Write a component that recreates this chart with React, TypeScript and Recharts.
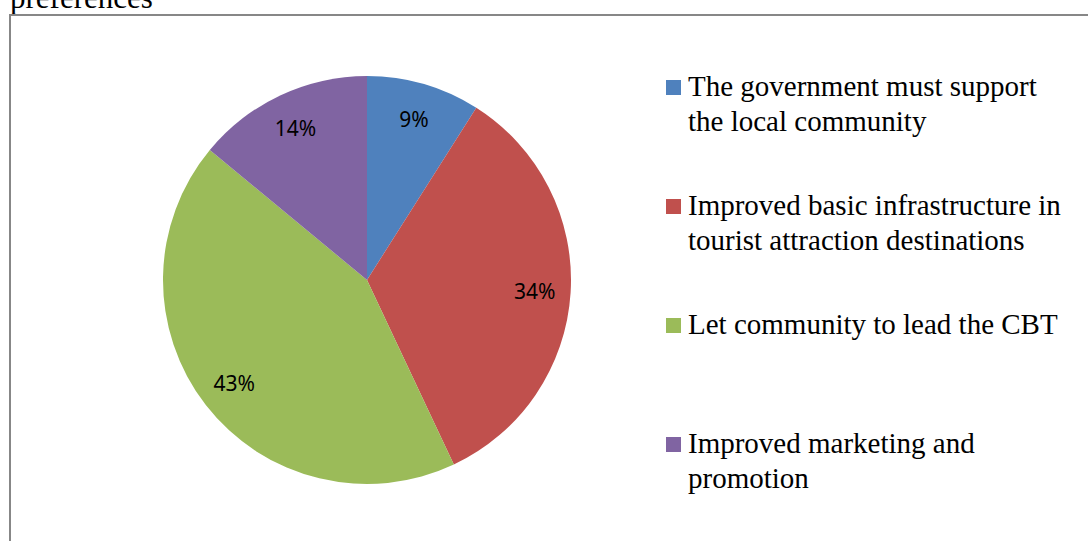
import { PieChart, Pie, Cell, Legend } from 'recharts';

const categories = [
  'The government must support the local community',
  'Improved basic infrastructure in tourist attraction destinations',
  'Let community to lead the CBT',
  'Improved marketing and promotion',
];
const shares = [9, 34, 43, 14];
const colors = ['#4F81BD', '#C0504D', '#9BBB59', '#8064A2'];

const data = categories.map((name, i) => ({ name, value: shares[i] }));

const RAD = Math.PI / 180;

function SliceLabel(props: any) {
  const { cx, cy, midAngle, index } = props;
  const r = 168;
  const x = cx + r * Math.cos(-midAngle * RAD);
  const y = cy + r * Math.sin(-midAngle * RAD);
  return (
    <text
      x={x}
      y={y}
      fill="#000"
      fontSize={21}
      fontFamily="'Noto Sans', sans-serif"
      textAnchor="middle"
      dominantBaseline="central"
    >
      {shares[index]}%
    </text>
  );
}

function LegendBox() {
  return (
    <div style={{ position: 'relative', width: 420, height: 541 }}>
      {categories.map((name, i) => (
        <div
          key={name}
          style={{ position: 'absolute', left: 0, top: 69 + i * 119, display: 'flex' }}
        >
          <span
            style={{
              width: 15,
              height: 15,
              marginTop: 11,
              marginRight: 7,
              background: colors[i],
              flexShrink: 0,
            }}
          />
          <span
            style={{
              width: 385,
              fontFamily: "'Liberation Serif', 'Times New Roman', serif",
              fontSize: 29,
              lineHeight: '35px',
              color: '#000',
            }}
          >
            {name}
          </span>
        </div>
      ))}
    </div>
  );
}

export default function App() {
  return (
    <div
      style={{
        position: 'absolute',
        left: 0,
        top: 0,
        width: 1088,
        height: 541,
        overflow: 'hidden',
        background: '#fff',
      }}
    >
      <div
        style={{
          position: 'absolute',
          left: 10,
          top: -18,
          fontFamily: "'Liberation Serif', 'Times New Roman', serif",
          fontSize: 31,
          lineHeight: '31px',
          color: '#000',
          whiteSpace: 'nowrap',
        }}
      >
        preferences
      </div>
      <div
        style={{
          position: 'absolute',
          left: 9,
          top: 14,
          width: 1200,
          height: 700,
          border: '2px solid #878787',
        }}
      />
      <div style={{ position: 'absolute', left: 0, top: 0 }}>
        <PieChart width={1088} height={541} margin={{ top: 0, right: 0, bottom: 0, left: 0 }}>
          <Pie
            data={data}
            dataKey="value"
            nameKey="name"
            cx={367}
            cy={280}
            outerRadius={204}
            startAngle={90}
            endAngle={-270}
            stroke="none"
            label={SliceLabel}
            labelLine={false}
            isAnimationActive={false}
          >
            {data.map((d, i) => (
              <Cell key={d.name} fill={colors[i]} />
            ))}
          </Pie>
          <Legend
            content={() => <LegendBox />}
            wrapperStyle={{ position: 'absolute', left: 666, top: 0, width: 420, height: 541 }}
          />
        </PieChart>
      </div>
    </div>
  );
}
